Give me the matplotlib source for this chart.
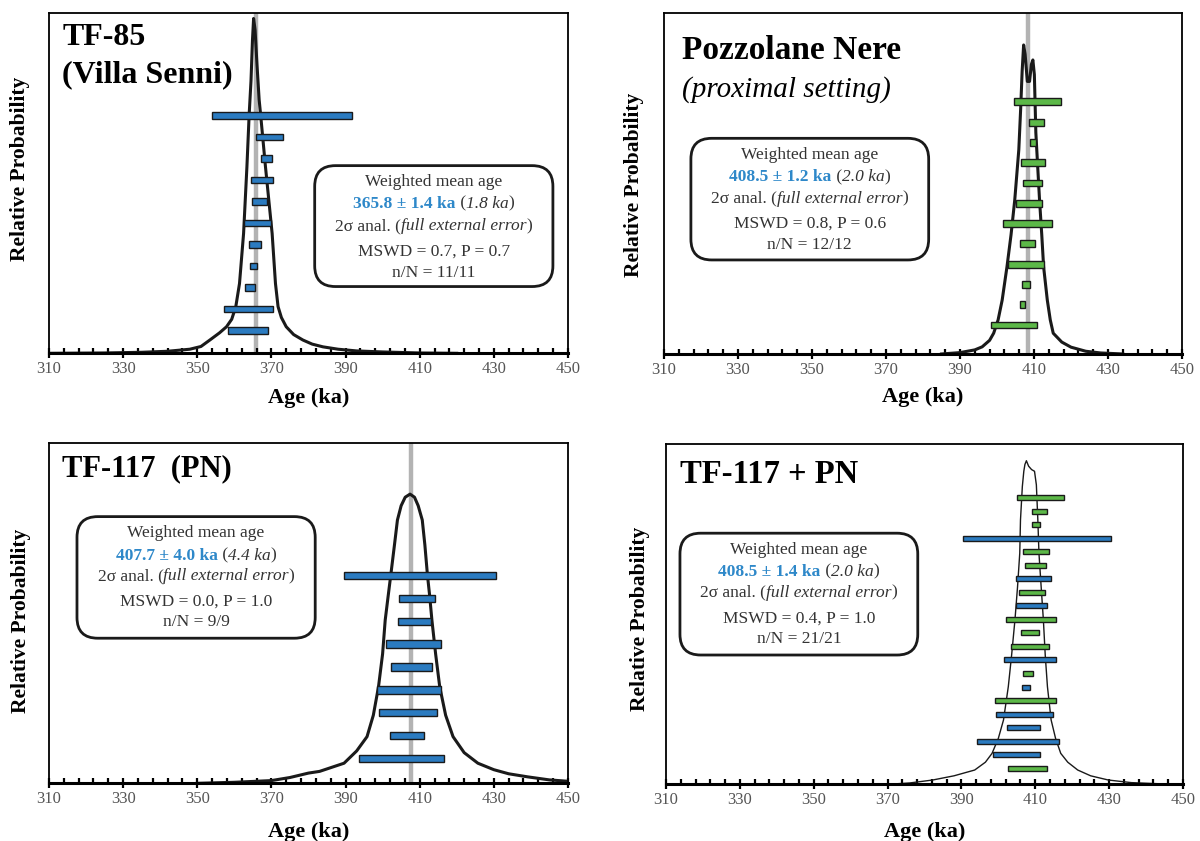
import numpy as np
import matplotlib
matplotlib.use("Agg")
import matplotlib.pyplot as plt
from matplotlib.patches import FancyBboxPatch
from matplotlib.ticker import FixedLocator

plt.rcParams['font.family'] = ['Liberation Serif', 'DejaVu Serif']

## Data (ages in ka)
# TF-85 (Villa Senni)
tf85_lo = [354.1, 365.9, 367.2, 364.4, 364.7, 362.6, 364.0, 364.3, 362.9, 357.3, 358.2]
tf85_hi = [391.8, 373.2, 370.1, 370.4, 368.9, 369.8, 367.2, 366.1, 365.7, 370.4, 369.0]
tf85_curve_age = [310, 325, 335, 342, 348, 351, 353.4, 356, 357.9, 359.3, 360.4, 361.4, 362.5,
                  363.4, 364.0, 364.5, 364.9, 365.2, 365.6, 366.1, 366.7, 367.1, 368.4, 370.2,
                  371.1, 371.8, 372.7, 374.0, 376, 378.5, 381, 383.9, 388, 393, 400, 410, 420]
tf85_curve_p = [0.0, 0.001, 0.003, 0.006, 0.012, 0.02, 0.039, 0.06, 0.078, 0.1, 0.137, 0.205, 0.352,
                0.548, 0.70, 0.80, 0.92, 0.983, 0.95, 0.85, 0.744, 0.70, 0.548, 0.352,
                0.205, 0.137, 0.105, 0.078, 0.055, 0.039, 0.027, 0.019, 0.012, 0.007, 0.004, 0.001, 0.0]

# Pozzolane Nere (proximal setting)
pn_lo = [404.6, 408.6, 409.0, 406.6, 406.9, 405.1, 401.7, 406.1, 403.0, 406.7, 406.3, 398.3]
pn_hi = [417.4, 412.6, 410.5, 413.1, 412.3, 412.1, 415.0, 410.2, 412.8, 408.9, 407.7, 410.7]
pn_curve_age = [385, 390, 394, 396, 398, 399.1, 400.3, 401.4, 402.7, 403.8, 404.8, 405.9, 406.4,
                406.8, 407.2, 407.6, 408.2, 408.8, 409.3, 409.7, 410.1, 410.5, 411.0, 411.5,
                412.1, 412.6, 413.6, 414.4, 415.2, 417.5, 420, 424, 428, 434]
pn_curve_p = [0.0, 0.004, 0.012, 0.021, 0.04, 0.061, 0.1, 0.158, 0.256, 0.35, 0.452, 0.6, 0.72,
              0.83, 0.907, 0.88, 0.80, 0.80, 0.85, 0.863, 0.82, 0.65, 0.55, 0.452,
              0.35, 0.256, 0.158, 0.1, 0.061, 0.035, 0.02, 0.008, 0.003, 0.0]

# TF-117 (PN)
tf117_lo = [389.6, 404.5, 404.2, 400.9, 402.2, 398.6, 398.9, 401.9, 393.7]
tf117_hi = [430.7, 414.0, 413.1, 415.7, 413.3, 415.7, 414.7, 411.3, 416.6]
tf117_curve_age = [350, 360, 370, 375, 380, 383, 389.6, 393, 395.8, 397.5, 398.9, 400.0, 400.7,
                   401.5, 402.2, 403.2, 404.0, 405.0, 406.1, 407.4, 408.6, 409.6, 410.7, 411.4,
                   412.1, 412.7, 413.3, 414.3, 415.4, 417.0, 419.0, 422, 425.7, 430, 434, 439.1,
                   445, 450]
tf117_curve_p = [0.0, 0.003, 0.008, 0.017, 0.03, 0.035, 0.059, 0.095, 0.137, 0.2, 0.284, 0.38, 0.479,
                 0.55, 0.611, 0.7, 0.773, 0.815, 0.84, 0.849, 0.84, 0.815, 0.773, 0.7,
                 0.611, 0.55, 0.479, 0.38, 0.284, 0.2, 0.137, 0.09, 0.059, 0.04, 0.028, 0.019,
                 0.01, 0.006]

# TF-117 + PN (B = TF-117, G = Pozzolane Nere)
all_lo = [405.0, 409.1, 409.2, 390.3, 406.8, 407.1, 404.9, 405.7, 404.7, 402.1, 406.1,
          403.3, 401.4, 406.8, 406.3, 399.1, 399.4, 402.3, 394.2, 398.6, 402.7]
all_hi = [417.9, 413.3, 411.4, 430.5, 413.8, 413.0, 414.2, 412.7, 413.3, 415.5, 411.0,
          413.6, 415.5, 409.5, 408.5, 415.6, 414.8, 411.4, 416.5, 411.3, 413.3]
all_unit = ['G', 'G', 'G', 'B', 'G', 'G', 'B', 'G', 'B', 'G', 'G',
            'G', 'B', 'G', 'B', 'G', 'B', 'B', 'B', 'B', 'G']
all_curve_age = [370, 376, 382.2, 388, 393.6, 396.5, 398.3, 400, 401.4, 402.7, 403.6, 404.5, 405.2,
                 405.8, 406.0, 406.5, 406.9, 407.2, 407.6, 408.2, 409.0, 409.8, 410.3, 410.7,
                 411.0, 411.6, 412.2, 412.7, 413.3, 414.3, 415.5, 416.9, 418.8, 421.5, 425,
                 429.8, 436, 445, 450]
all_curve_p = [0.0, 0.004, 0.0126, 0.025, 0.042, 0.065, 0.091, 0.135, 0.189, 0.287, 0.38, 0.483, 0.58,
               0.679, 0.777, 0.875, 0.92, 0.94, 0.951, 0.935, 0.925, 0.92, 0.88, 0.777,
               0.679, 0.58, 0.483, 0.38, 0.287, 0.189, 0.135, 0.091, 0.065, 0.042, 0.025,
               0.0126, 0.005, 0.001, 0.0]

means = [365.8, 408.5, 407.7, 408.5]
mean_err = ["1.4", "1.2", "4.0", "1.4"]
ext_err = ["1.8", "2.0", "4.4", "2.0"]
mswd = ["0.7", "0.8", "0.0", "0.4"]
pval = ["0.7", "0.6", "1.0", "1.0"]
nN = ["11/11", "12/12", "9/9", "21/21"]

BLUE = "#2b7bc0"
GREEN = "#5cb848"
TXT = "#333333"
VAL = "#2e88c9"


def rich_line(ax, x, y, parts, size):
    # parts: list of (text, extra props); centred at x (axes fraction)
    texts = []
    for s, p in parts:
        props = dict(color=TXT, fontsize=size, zorder=6)
        props.update(p)
        texts.append(ax.text(0, y, s, transform=ax.transAxes, ha="left", va="baseline", **props))
    r = ax.figure.canvas.get_renderer()
    axw = ax.get_window_extent(r).width
    widths = [t.get_window_extent(r).width / axw for t in texts]
    cur = x - sum(widths) / 2
    for t, w in zip(texts, widths):
        t.set_x(cur)
        cur += w


def panel(ax, lo, hi, colors, bar_top, bar_bot, bar_h, cage, cp, curve_lw, mean, box, lines_y, title_fn, k):
    ax.set_xlim(310, 450)
    ax.set_ylim(0, 1)
    if mean is not None:
        ax.axvline(mean, color="#b3b3b3", lw=3.2, zorder=1)
    ax.plot(cage, cp, color="#1a1a1a", lw=curve_lw, zorder=2, solid_joinstyle="round")
    ypos = np.linspace(bar_top, bar_bot, len(lo))
    ax.barh(ypos, np.array(hi) - np.array(lo), left=lo, height=bar_h, color=colors,
            edgecolor="#1a1a1a", lw=1.0, zorder=3)

    x0, y0, x1, y1 = box
    bb = FancyBboxPatch((x0, y0), x1 - x0, y1 - y0, transform=ax.transAxes,
                        boxstyle="round,pad=0,rounding_size=0.04", mutation_aspect=1.52,
                        facecolor="white", edgecolor="#1a1a1a", lw=2.0, zorder=4)
    ax.add_patch(bb)
    cx = (x0 + x1) / 2
    fs = 12.5
    ax.text(cx, lines_y[0], "Weighted mean age", transform=ax.transAxes, ha="center",
            va="baseline", fontsize=fs, color=TXT, zorder=6)
    rich_line(ax, cx, lines_y[1], [("%.1f \u00b1 %s ka" % (means[k], mean_err[k]), dict(color=VAL, fontweight="bold")),
                                   (" (", {}), (ext_err[k] + " ka", dict(style="italic")), (")", {})], fs)
    rich_line(ax, cx, lines_y[2], [("2\u03c3 anal. (", {}), ("full external error", dict(style="italic")),
                                   (")", {})], fs)
    ax.text(cx, lines_y[3], "MSWD = %s, P = %s" % (mswd[k], pval[k]), transform=ax.transAxes,
            ha="center", va="baseline", fontsize=fs, color=TXT, zorder=6)
    ax.text(cx, lines_y[4], "n/N = " + nN[k], transform=ax.transAxes,
            ha="center", va="baseline", fontsize=fs, color=TXT, zorder=6)
    title_fn(ax)

    ax.set_yticks([])
    ax.set_xticks(np.arange(310, 451, 20))
    ax.xaxis.set_minor_locator(FixedLocator(np.arange(310, 451, 4)))
    ax.tick_params(axis="x", which="major", direction="inout", length=7, width=1.6,
                   labelsize=12, labelcolor="#555555", pad=2)
    ax.tick_params(axis="x", which="minor", direction="in", length=3.5, width=1.6)
    for s in ["left", "top", "right"]:
        ax.spines[s].set_linewidth(1.3)
    ax.spines["bottom"].set_linewidth(2.2)
    ax.set_xlabel("Age (ka)", fontsize=16, fontweight="bold")
    ax.set_ylabel("Relative Probability", fontsize=15.5, fontweight="bold")


fig = plt.figure(figsize=(12, 8.41), dpi=100)
ax1 = fig.add_axes([0.0408, 0.5799, 0.4325, 0.405])
ax2 = fig.add_axes([0.5533, 0.5791, 0.4317, 0.4051])
ax3 = fig.add_axes([0.0408, 0.0686, 0.4325, 0.405])
ax4 = fig.add_axes([0.5550, 0.0674, 0.4308, 0.4046])
fig.canvas.draw()


def t1(ax):
    ax.text(0.026, 0.969, "TF-85\n(Villa Senni)", transform=ax.transAxes, ha="left", va="top",
            fontsize=23, fontweight="bold", linespacing=1.37)


def t2(ax):
    ax.text(0.035, 0.935, "Pozzolane Nere", transform=ax.transAxes, ha="left", va="top",
            fontsize=24, fontweight="bold")
    ax.text(0.035, 0.815, "(proximal setting)", transform=ax.transAxes, ha="left", va="top",
            fontsize=21, style="italic")


def t3(ax):
    ax.text(0.026, 0.966, "TF-117  (PN)", transform=ax.transAxes, ha="left", va="top",
            fontsize=22, fontweight="bold")


def t4(ax):
    ax.text(0.028, 0.957, "TF-117 + PN", transform=ax.transAxes, ha="left", va="top",
            fontsize=23.5, fontweight="bold")


panel(ax1, tf85_lo, tf85_hi, BLUE, 0.698, 0.0675, 0.019, tf85_curve_age, tf85_curve_p, 2.2,
      means[0], (0.512, 0.196, 0.971, 0.551), [0.492, 0.428, 0.362, 0.288, 0.225], t1, 0)
panel(ax2, pn_lo, pn_hi, GREEN, 0.740, 0.085, 0.02, pn_curve_age, pn_curve_p, 2.2,
      means[1], (0.052, 0.276, 0.511, 0.633), [0.572, 0.507, 0.444, 0.371, 0.307], t2, 1)
panel(ax3, tf117_lo, tf117_hi, BLUE, 0.611, 0.072, 0.021, tf117_curve_age, tf117_curve_p, 2.2,
      means[2], (0.054, 0.426, 0.513, 0.783), [0.722, 0.657, 0.596, 0.522, 0.462], t3, 2)
panel(ax4, all_lo, all_hi, [BLUE if u == "B" else GREEN for u in all_unit], 0.843, 0.047, 0.0147,
      all_curve_age, all_curve_p, 1.0, None, (0.027, 0.380, 0.487, 0.738),
      [0.677, 0.613, 0.551, 0.475, 0.414], t4, 3)

for ax, lx, ly, xly in [(ax1, -0.056, 0.541, -0.131), (ax2, -0.058, 0.496, -0.125),
                        (ax3, -0.054, 0.477, -0.142), (ax4, -0.05, 0.486, -0.139)]:
    ax.yaxis.set_label_coords(lx, ly)
    ax.yaxis.label.set_va("center")
    ax.xaxis.set_label_coords(0.5, xly)
    ax.xaxis.label.set_va("center")

fig.savefig("out.png", dpi=100)
